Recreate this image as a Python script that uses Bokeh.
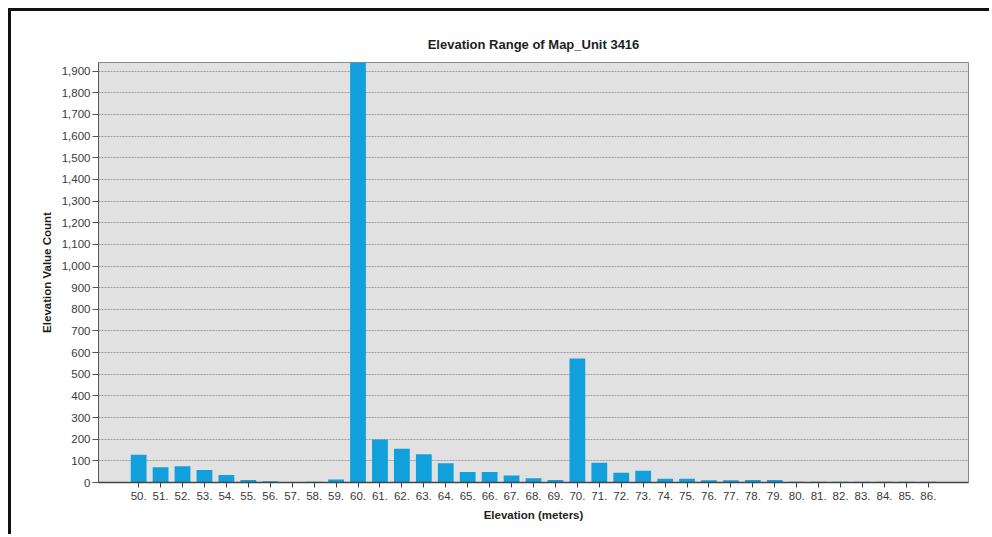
from bokeh.plotting import figure
from bokeh.models import FactorRange, Range1d, FixedTicker, NumeralTickFormatter
from bokeh.embed import file_html
from bokeh.resources import INLINE

# ---- data ----
elevations = ["50.", "51.", "52.", "53.", "54.", "55.", "56.", "57.", "58.", "59.",
              "60.", "61.", "62.", "63.", "64.", "65.", "66.", "67.", "68.", "69.",
              "70.", "71.", "72.", "73.", "74.", "75.", "76.", "77.", "78.", "79.",
              "80.", "81.", "82.", "83.", "84.", "85.", "86."]
counts = [128, 70, 75, 58, 35, 12, 6, 1, 4, 14,
          1940, 199, 156, 130, 89, 48, 48, 32, 20, 11,
          573, 91, 45, 54, 17, 17, 10, 10, 12, 12,
          4, 4, 4, 4, 4, 4, 4]
y_ticks = list(range(0, 2000, 100))
title_text = "Elevation Range of Map_Unit 3416"
x_label = "Elevation (meters)"
y_label = "Elevation Value Count"

FONT = "Liberation Sans"

p = figure(
    width=981, height=526,
    x_range=FactorRange(factors=elevations, range_padding=1.33, range_padding_units="absolute"),
    y_range=Range1d(0, 1940),
    output_backend="svg", toolbar_location=None,
    min_border_left=87, min_border_right=24, min_border_top=51, min_border_bottom=55,
    title=title_text,
)
p.styles = {"margin-left": "8px", "margin-top": "8px",
            "border-top": "3px solid #111111", "border-left": "3px solid #111111"}

p.vbar(x=elevations, top=counts, width=0.72, fill_color="#12a0dc", line_color=None)

p.title.align = "center"
p.title.text_font = FONT
p.title.text_font_size = "13px"
p.title.text_font_style = "bold"
p.title.text_color = "#1e1e1e"
p.title.standoff = 21

p.background_fill_color = "#e1e1e1"
p.border_fill_color = "white"
p.outline_line_color = "#8a8a8a"
p.outline_line_width = 1

p.xgrid.grid_line_color = None
p.ygrid.grid_line_color = "#9a9a9a"
p.ygrid.grid_line_dash = "2 1"
p.ygrid.grid_line_width = 1
p.ygrid.ticker = FixedTicker(ticks=y_ticks)

p.yaxis.ticker = FixedTicker(ticks=y_ticks)
p.yaxis.formatter = NumeralTickFormatter(format="0,0")
p.yaxis.major_tick_out = 6
p.yaxis.major_tick_in = 0
p.yaxis.minor_tick_line_color = None
p.yaxis.axis_line_color = "#555555"
p.yaxis.major_tick_line_color = "#555555"
p.yaxis.major_label_text_font = FONT
p.yaxis.major_label_text_font_size = "11.5px"
p.yaxis.major_label_text_color = "#3a3a3a"
p.yaxis.major_label_standoff = 2
p.yaxis.axis_label = y_label
p.yaxis.axis_label_text_font = FONT
p.yaxis.axis_label_text_font_size = "11.5px"
p.yaxis.axis_label_text_font_style = "bold"
p.yaxis.axis_label_text_color = "#1e1e1e"
p.yaxis.axis_label_standoff = 6

p.xaxis.major_tick_out = 5
p.xaxis.major_tick_in = 0
p.xaxis.axis_line_color = "#444444"
p.xaxis.axis_line_width = 1.5
p.xaxis.major_tick_line_color = "#444444"
p.xaxis.major_label_text_font = FONT
p.xaxis.major_label_text_font_size = "11.5px"
p.xaxis.major_label_text_color = "#3a3a3a"
p.xaxis.major_label_standoff = 4
p.xaxis.axis_label = x_label
p.xaxis.axis_label_text_font = FONT
p.xaxis.axis_label_text_font_size = "11.5px"
p.xaxis.axis_label_text_font_style = "bold"
p.xaxis.axis_label_text_color = "#1e1e1e"
p.xaxis.axis_label_standoff = 6

open("out.html", "w").write(file_html(p, INLINE))
